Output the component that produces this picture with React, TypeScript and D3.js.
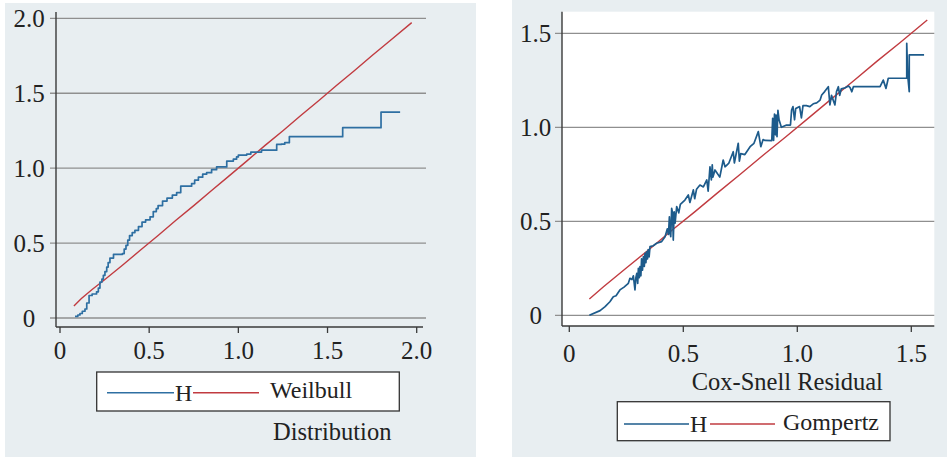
import React from "react";
import * as d3 from "d3";

// left panel: Nelson-Aalen H vs Weilbull
const leftHx = [0.084, 0.1, 0.112, 0.125, 0.14, 0.15, 0.163, 0.18, 0.205, 0.215, 0.224, 0.235, 0.243, 0.252, 0.262, 0.27, 0.28, 0.3, 0.35, 0.36, 0.37, 0.38, 0.39, 0.405, 0.42, 0.44, 0.46, 0.48, 0.505, 0.523, 0.54, 0.55, 0.575, 0.6, 0.63, 0.654, 0.677, 0.738, 0.755, 0.776, 0.8, 0.822, 0.85, 0.878, 0.935, 0.972, 0.99, 1.0, 1.047, 1.07, 1.13, 1.215, 1.24, 1.26, 1.286, 1.585, 1.8, 1.907];
const leftHy = [0.011, 0.02, 0.03, 0.045, 0.06, 0.1, 0.15, 0.16, 0.175, 0.2, 0.24, 0.26, 0.285, 0.31, 0.34, 0.37, 0.4, 0.425, 0.43, 0.46, 0.485, 0.52, 0.55, 0.57, 0.585, 0.61, 0.64, 0.655, 0.675, 0.71, 0.73, 0.75, 0.78, 0.8, 0.82, 0.837, 0.88, 0.897, 0.92, 0.94, 0.96, 0.97, 0.99, 1.008, 1.047, 1.06, 1.075, 1.087, 1.094, 1.107, 1.12, 1.158, 1.16, 1.17, 1.21, 1.27, 1.374, 1.374];
const leftWx = [0.078, 0.12, 0.18, 0.25, 0.35, 0.45, 0.55, 0.65, 0.75, 0.85, 0.95, 1.05, 1.15, 1.25, 1.35, 1.45, 1.55, 1.65, 1.75, 1.85, 1.972];
const leftWy = [0.08, 0.13, 0.19, 0.255, 0.352, 0.452, 0.551, 0.652, 0.75, 0.851, 0.95, 1.05, 1.152, 1.25, 1.351, 1.45, 1.552, 1.65, 1.752, 1.85, 1.971];

// right panel: Nelson-Aalen H vs Gompertz
const rightHx = [0.088, 0.135, 0.157, 0.178, 0.193, 0.205, 0.222, 0.24, 0.259, 0.266, 0.275, 0.281, 0.288, 0.292, 0.296, 0.3, 0.303, 0.307, 0.31, 0.314, 0.317, 0.321, 0.325, 0.329, 0.332, 0.336, 0.339, 0.343, 0.346, 0.35, 0.354, 0.368, 0.383, 0.405, 0.42, 0.43, 0.435, 0.439, 0.442, 0.445, 0.449, 0.453, 0.456, 0.46, 0.464, 0.471, 0.48, 0.487, 0.507, 0.522, 0.529, 0.544, 0.55, 0.558, 0.573, 0.588, 0.603, 0.609, 0.617, 0.623, 0.627, 0.63, 0.639, 0.66, 0.675, 0.683, 0.7, 0.719, 0.724, 0.741, 0.746, 0.752, 0.77, 0.793, 0.81, 0.829, 0.84, 0.85, 0.858, 0.888, 0.892, 0.896, 0.9, 0.904, 0.907, 0.911, 0.915, 0.92, 0.93, 0.953, 0.97, 0.975, 0.981, 0.988, 0.993, 1.01, 1.018, 1.025, 1.04, 1.055, 1.07, 1.085, 1.1, 1.107, 1.12, 1.136, 1.143, 1.15, 1.165, 1.172, 1.18, 1.186, 1.193, 1.21, 1.225, 1.232, 1.239, 1.246, 1.363, 1.377, 1.389, 1.399, 1.48, 1.48, 1.484, 1.491, 1.491, 1.556];
const rightHy = [0, 0.025, 0.046, 0.072, 0.099, 0.104, 0.135, 0.15, 0.17, 0.197, 0.19, 0.21, 0.135, 0.2, 0.223, 0.17, 0.25, 0.2, 0.259, 0.21, 0.3, 0.24, 0.312, 0.26, 0.33, 0.28, 0.338, 0.3, 0.35, 0.31, 0.365, 0.37, 0.383, 0.392, 0.418, 0.46, 0.43, 0.524, 0.44, 0.418, 0.569, 0.543, 0.4, 0.55, 0.49, 0.578, 0.545, 0.59, 0.613, 0.64, 0.6, 0.667, 0.62, 0.67, 0.693, 0.683, 0.72, 0.66, 0.79, 0.72, 0.8, 0.735, 0.773, 0.735, 0.826, 0.79, 0.81, 0.87, 0.81, 0.915, 0.82, 0.86, 0.855, 0.897, 0.915, 0.977, 0.897, 0.935, 0.93, 0.929, 1.048, 0.93, 1.07, 0.96, 1.065, 0.95, 1.09, 1.04, 1.0, 1.012, 1.012, 1.092, 1.11, 1.04, 1.1, 1.11, 1.05, 1.115, 1.115, 1.11, 1.125, 1.13, 1.145, 1.172, 1.19, 1.216, 1.119, 1.17, 1.119, 1.19, 1.216, 1.17, 1.205, 1.21, 1.22, 1.21, 1.189, 1.216, 1.216, 1.251, 1.207, 1.261, 1.261, 1.447, 1.28, 1.189, 1.385, 1.385];
const rightGx = [0.088, 0.15, 0.25, 0.35, 0.45, 0.55, 0.65, 0.75, 0.85, 0.95, 1.05, 1.15, 1.25, 1.35, 1.45, 1.57];
const rightGy = [0.087, 0.152, 0.252, 0.35, 0.452, 0.55, 0.651, 0.75, 0.851, 0.95, 1.05, 1.151, 1.25, 1.352, 1.45, 1.571];

const leftTicks = [0, 0.5, 1, 1.5, 2];
const leftTickLabels = ["0", "0.5", "1.0", "1.5", "2.0"];
const rightTicks = [0, 0.5, 1, 1.5];
const rightTickLabels = ["0", "0.5", "1.0", "1.5"];

const BG = "#e8eef1";
const GRID = "#8f8f8f";
const AXIS = "#3a3a3a";
const RED = "#c13b40";
const FONT = "'Liberation Serif', 'Times New Roman', serif";

type Pt = [number, number];
const zip = (xs: number[], ys: number[]): Pt[] => xs.map((x, i) => [x, ys[i]]);

function Panel(props: any) {
  const {
    bg, plot, xRange, yRange, xDomain, yDomain, ticks, tickLabels,
    yLabelX, xLabelY, title, legend, hPts, fitPts, hCurve, blue, fitName, gridX0,
  } = props;
  const x = d3.scaleLinear().domain(xDomain).range(xRange);
  const y = d3.scaleLinear().domain(yDomain).range(yRange);
  const hLine = d3.line<Pt>().x(d => x(d[0])).y(d => y(d[1])).curve(hCurve);
  const fitLine = d3.line<Pt>().x(d => x(d[0])).y(d => y(d[1]));
  return (
    <g fontFamily={FONT} fill="#222">
      <rect x={bg.x} y={bg.y} width={bg.w} height={bg.h} fill={BG} />
      {plot.fill && (
        <rect x={plot.x0} y={plot.y0} width={plot.x1 - plot.x0} height={plot.y1 - plot.y0} fill={plot.fill} />
      )}
      {ticks.map((t: number) => (
        <line key={"g" + t} x1={gridX0} x2={plot.x1 + plot.gridOver} y1={y(t)} y2={y(t)} stroke={GRID} strokeWidth={1.3} />
      ))}
      {ticks.map((t: number, i: number) => (
        <text key={"yl" + t} x={yLabelX} y={y(t)} dy="0.35em" textAnchor="middle" fontSize={25}>
          {tickLabels[i]}
        </text>
      ))}
      <line x1={plot.x0} x2={plot.x0} y1={plot.y0} y2={plot.y1} stroke={AXIS} strokeWidth={1.4} />
      <line x1={plot.x0} x2={plot.x1} y1={plot.y1} y2={plot.y1} stroke={AXIS} strokeWidth={1.4} />
      {ticks.map((t: number, i: number) => (
        <g key={"x" + t}>
          <line x1={x(t)} x2={x(t)} y1={plot.y1} y2={plot.y1 + 6} stroke={AXIS} strokeWidth={1.3} />
          <text x={x(t)} y={xLabelY} textAnchor="middle" fontSize={25}>{tickLabels[i]}</text>
        </g>
      ))}
      <path d={fitLine(fitPts) || ""} fill="none" stroke={RED} strokeWidth={1.4} />
      <path d={hLine(hPts) || ""} fill="none" stroke={blue} strokeWidth={1.7} strokeLinejoin="round" />
      <text x={title.x} y={title.y} fontSize={24.5}>{title.text}</text>
      <g>
        <rect x={legend.x0} y={legend.y0} width={legend.x1 - legend.x0} height={legend.y1 - legend.y0} fill="#fff" stroke="#333" strokeWidth={1.3} />
        <line x1={legend.b0} x2={legend.b1} y1={legend.ly} y2={legend.ly} stroke={blue} strokeWidth={1.6} />
        <text x={legend.b1 + 1} y={legend.hy} fontSize={24}>H</text>
        <line x1={legend.r0} x2={legend.r1} y1={legend.ly} y2={legend.ly} stroke={RED} strokeWidth={1.4} />
        <text x={legend.tx} y={legend.ty} fontSize={24}>{fitName}</text>
      </g>
    </g>
  );
}

export default function App() {
  return (
    <svg width={947} height={457} style={{ position: "fixed", left: 0, top: 0, display: "block", background: "#fff" }}>
      <Panel
        bg={{ x: 5, y: 3, w: 471, h: 454 }}
        plot={{ x0: 56, x1: 423, y0: 12, y1: 327, gridOver: 3 }}
        gridX0={50}
        xDomain={[0, 2]} xRange={[60, 416.7]}
        yDomain={[0, 2]} yRange={[318, 18.3]}
        ticks={leftTicks} tickLabels={leftTickLabels}
        yLabelX={29} xLabelY={359}
        title={{ text: "Distribution", x: 273, y: 440 }}
        legend={{ x0: 96.7, x1: 399.3, y0: 372, y1: 411, b0: 107, b1: 174, r0: 193, r1: 259, ly: 392.7, hy: 401, tx: 270, ty: 398 }}
        hPts={zip(leftHx, leftHy)} fitPts={zip(leftWx, leftWy)}
        hCurve={d3.curveStepAfter} blue="#2e6fa2" fitName="Weilbull"
      />
      <Panel
        bg={{ x: 512, y: 0, w: 435, h: 457 }}
        plot={{ x0: 562, x1: 934.3, y0: 11.7, y1: 326, fill: "#fff", gridOver: 0 }}
        gridX0={555}
        xDomain={[0, 1.5]} xRange={[569.3, 911.3]}
        yDomain={[0, 1.5]} yRange={[315.3, 33.3]}
        ticks={rightTicks} tickLabels={rightTickLabels}
        yLabelX={535.7} xLabelY={361.7}
        title={{ text: "Cox-Snell Residual", x: 691.7, y: 390 }}
        legend={{ x0: 617.3, x1: 890, y0: 401.7, y1: 440.7, b0: 624, b1: 689, r0: 710, r1: 775, ly: 424, hy: 432, tx: 783, ty: 430 }}
        hPts={zip(rightHx, rightHy)} fitPts={zip(rightGx, rightGy)}
        hCurve={d3.curveLinear} blue="#1d5b8b" fitName="Gompertz"
      />
    </svg>
  );
}
